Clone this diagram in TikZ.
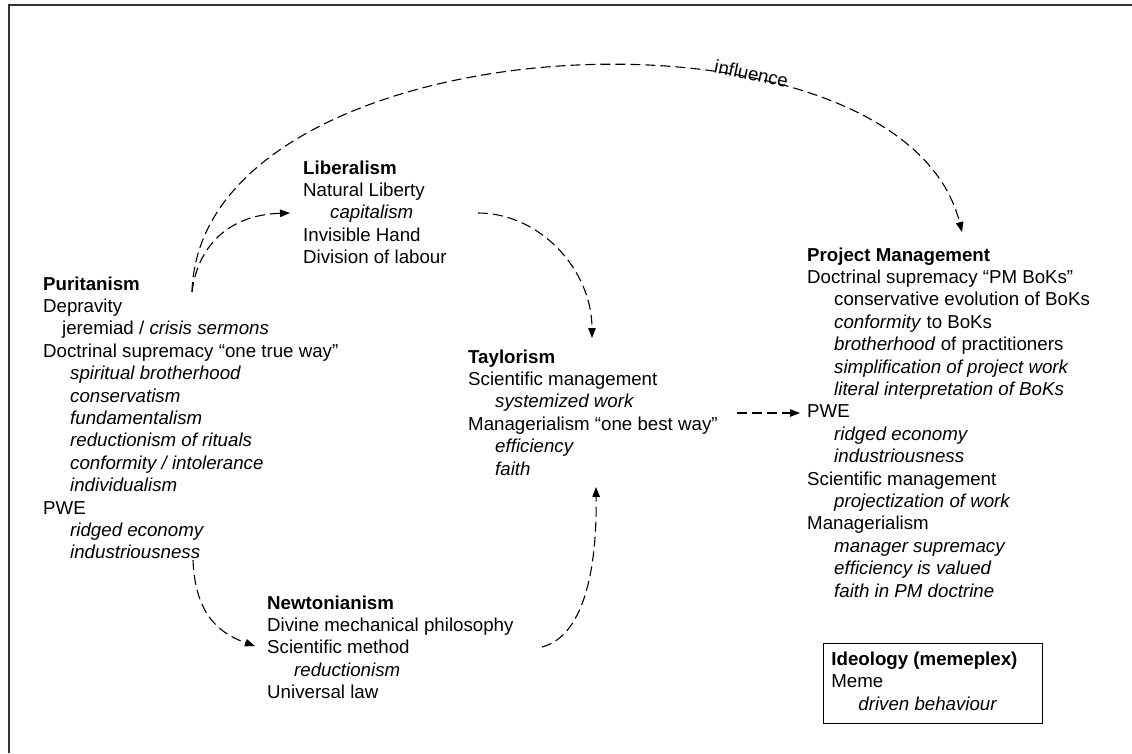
\documentclass[tikz,border=0pt]{standalone}
\usepackage{fontspec}
\setmainfont{Liberation Sans}
\usetikzlibrary{arrows.meta}
\newcommand\myind{\hspace*{27pt}}
\tikzset{
  blk/.style={anchor=base west, inner sep=0pt, font={\fontsize{18.7}{22.4}\selectfont}},
  dconn/.style={draw, line width=1.1pt, dash pattern=on 10pt off 5pt, -{Triangle[length=10pt,width=7.5pt]}},
}
\begin{document}
\begin{tikzpicture}[x=1pt,y=-1pt]
\useasboundingbox (0,0) rectangle (1132,753);
\fill[white] (0,0) rectangle (1132,753);
\draw[line width=1.3pt, black!80] (1132,5) -- (9,5) -- (9,753);

\node[blk] (pur) at (43,290) {\begin{tabular}[t]{@{}l@{}}
\textbf{Puritanism}\\
Depravity\\
\hspace*{19pt}jeremiad / \textit{crisis sermons}\\
Doctrinal supremacy “one true way”\\
\myind\textit{spiritual brotherhood}\\
\myind\textit{conservatism}\\
\myind\textit{fundamentalism}\\
\myind\textit{reductionism of rituals}\\
\myind\textit{conformity / intolerance}\\
\myind\textit{individualism}\\
PWE\\
\myind\textit{ridged economy}\\
\myind\textit{industriousness}
\end{tabular}};

\node[blk] (lib) at (303,174) {\begin{tabular}[t]{@{}l@{}}
\textbf{Liberalism}\\
Natural Liberty\\
\myind\textit{capitalism}\\
Invisible Hand\\
Division of labour
\end{tabular}};

\node[blk] (tay) at (468,363) {\begin{tabular}[t]{@{}l@{}}
\textbf{Taylorism}\\
Scientific management\\
\myind\textit{systemized work}\\
Managerialism “one best way”\\
\myind\textit{efficiency}\\
\myind\textit{faith}
\end{tabular}};

\node[blk] (newt) at (267,609) {\begin{tabular}[t]{@{}l@{}}
\textbf{Newtonianism}\\
Divine mechanical philosophy\\
Scientific method\\
\myind\textit{reductionism}\\
Universal law
\end{tabular}};

\node[blk] (pm) at (807,261) {\begin{tabular}[t]{@{}l@{}}
\textbf{Project Management}\\
Doctrinal supremacy “PM BoKs”\\
\myind conservative evolution of BoKs\\
\myind\textit{conformity} to BoKs\\
\myind\textit{brotherhood} of practitioners\\
\myind\textit{simplification of project work}\\
\myind\textit{literal interpretation of BoKs}\\
PWE\\
\myind\textit{ridged economy}\\
\myind\textit{industriousness}\\
Scientific management\\
\myind\textit{projectization of work}\\
Managerialism\\
\myind\textit{manager supremacy}\\
\myind\textit{efficiency is valued}\\
\myind\textit{faith in PM doctrine}
\end{tabular}};

\node[draw, line width=0.8pt, anchor=north west, inner xsep=8pt, inner ysep=6.4pt,
      font={\fontsize{18.7}{22.4}\selectfont}] (meme) at (823,643) {\begin{tabular}[t]{@{}p{203pt}@{}}
\textbf{Ideology (memeplex)}\\
Meme\\
\myind\textit{driven behaviour}
\end{tabular}};

% connector end points attached to the blocks
\coordinate (purTop) at ([shift={(149,2)}]pur.base west);
\coordinate (purBot) at ([shift={(150,270)}]pur.base west);
\coordinate (libIn)  at ([shift={(-13,39)}]lib.base west);
\coordinate (libOut) at ([shift={(175,39)}]lib.base west);
\coordinate (tayTop) at ([shift={(124,-25)}]tay.base west);
\coordinate (tayBot) at ([shift={(128,124)}]tay.base west);
\coordinate (tayOut) at ([shift={(269,50)}]tay.base west);
\coordinate (newtIn) at ([shift={(-12,37)}]newt.base west);
\coordinate (newtOut) at ([shift={(275,38)}]newt.base west);
\coordinate (pmIn)   at ([shift={(-7,152)}]pm.base west);
\coordinate (pmTop)  at ([shift={(155,-29)}]pm.base west);

\draw[dconn] (purTop) .. controls +(8,-272) and +(-62,-247) ..
   node[pos=0.68, sloped, anchor=base, inner sep=0pt, font={\fontsize{18.7}{22.4}\selectfont}] (infl) {influence} (pmTop);
\draw[dconn] (purTop) .. controls +(5,-42) and +(-65,2) .. (libIn);
\draw[dconn] (libOut) .. controls +(62,0) and +(0,-68) .. (tayTop);
\draw[dconn] (tayOut) -- (pmIn);
\draw[dconn] (purBot) .. controls +(2,50) and +(-40,-14) .. (newtIn);
\draw[dconn] (newtOut) .. controls +(45,-12) and +(1,73) .. (tayBot);
\end{tikzpicture}
\end{document}
